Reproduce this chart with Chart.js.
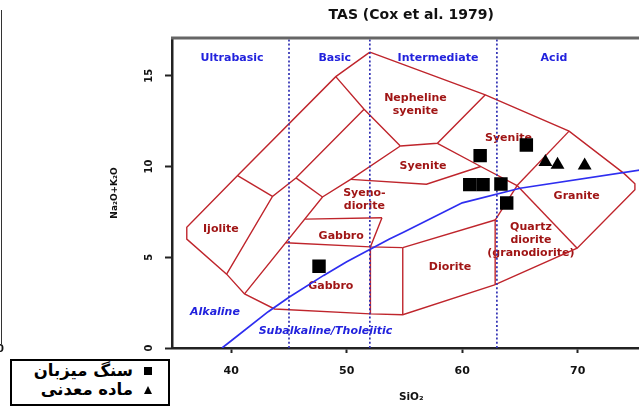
<!DOCTYPE html>
<html>
<head>
<meta charset="utf-8">
<title>TAS (Cox et al. 1979)</title>
<script src="https://cdn.jsdelivr.net/npm/chart.js@4/dist/chart.umd.min.js"></script>
<style>
  html, body { margin: 0; padding: 0; background: #fff; overflow: hidden; width: 639px; height: 407px; }
  #wrap { position: relative; width: 639px; height: 407px; overflow: hidden; }
  #tas { position: absolute; left: 0; top: 0; }
  #edge { position: absolute; left: 1px; top: 10px; width: 1px; height: 334px; background: #333; }
  #zero { position: absolute; left: -3px; top: 343px; font: bold 10px "DejaVu Sans", sans-serif; color: #111; }
  #legend { position: absolute; left: 10px; top: 359px; width: 156px; height: 43px; border: 2px solid #000; background: #fff; }
  #legend .txt { position: absolute; right: 35px; font: bold 16.5px "DejaVu Sans", sans-serif; direction: rtl; white-space: nowrap; line-height: 18px; color: #000; }
  #legend .sq { position: absolute; left: 132px; top: 6px; width: 8px; height: 8px; background: #000; }
  #legend .tri { position: absolute; left: 132px; top: 25px; width: 0; height: 0; border-left: 4.5px solid transparent; border-right: 4.5px solid transparent; border-bottom: 8px solid #000; }
</style>
</head>
<body>
<div id="wrap">
  <canvas id="tas" width="660" height="407"></canvas>
  <div id="edge"></div>
  <div id="zero">0</div>
  <div id="legend"></div>
</div>
<script>
// ---- axes ----
const xTicks = [40, 50, 60, 70];
const yTicks = [0, 5, 10, 15];
const xRange = [34.87, 76.3];
const yRange = [0, 17.08];

// ---- samples (SiO2, Na2O+K2O) ----
const seriesNames = ['سنگ میزبان', 'ماده معدنی'];
const hostSiO2 = [65.55, 61.55, 60.65, 61.8, 63.35, 63.85, 47.6];
const hostAlk  = [11.18, 10.6, 9.0, 9.0, 9.04, 7.99, 4.5];
const oreSiO2  = [67.2, 68.25, 70.6];
const oreAlk   = [10.25, 10.1, 10.05];

// ---- silica divisions ----
const divisionSiO2 = [45, 52, 63];
const divisionNames = ['Ultrabasic', 'Basic', 'Intermediate', 'Acid'];
const divisionLabelX = [40.07, 48.96, 57.9, 67.94];
const divisionLabelY = 15.97;

// ---- alkaline / subalkaline divide (Irvine & Baragar 1971) ----
const ibSiO2 = [39.2, 40, 43.2, 45, 48, 50, 53.7, 55, 60, 65, 77.4];
const ibAlk  = [0, 0.4, 2, 2.8, 4, 4.75, 6, 6.4, 8, 8.8, 10];
const seriesZoneNames = ['Alkaline', 'Subalkaline/Tholeiitic'];
const seriesZoneX = [38.59, 48.16];
const seriesZoneY = [1.96, 0.91];

// ---- field boundaries (SiO2, Na2O+K2O) ----
const outerBoundary = [[52.0,16.3],[62.0,13.95],[69.25,11.95],[74.0,9.62],[74.95,9.05],[74.95,8.72],
  [69.95,5.5],[62.8,3.48],[54.85,1.83],[52.05,1.88],[43.75,2.15],[41.15,2.98],[39.6,4.07],
  [36.15,6.0],[36.15,6.65],[40.55,9.5],[49.05,14.95],[52.0,16.3]];
const nephSyeniteLeft   = [[49.05,14.95],[51.5,13.15],[54.64,11.13]];
const nephSyeniteBase   = [[54.64,11.13],[57.85,11.28],[62.0,13.95]];
const syeniteDivide     = [[57.85,11.28],[61.6,10.0],[64.75,8.95]];
const syeniteGranite    = [[64.75,8.95],[69.25,11.95]];
const granodioriteSide  = [[64.75,8.95],[69.95,5.5]];
const granodioriteTop   = [[62.85,7.05],[64.75,8.95]];
const dioriteRight      = [[62.85,7.05],[62.85,3.48]];
const dioriteTop        = [[54.85,5.53],[62.85,7.05]];
const dioriteLeft       = [[54.85,5.53],[54.85,1.83]];
const gabbroRight       = [[53.05,7.18],[52.05,5.57],[52.05,1.88]];
const gabbroBase        = [[44.7,5.8],[52.05,5.57],[54.85,5.53]];
const gabbroTop         = [[46.4,7.1],[53.05,7.18]];
const syeniteBase       = [[50.34,9.29],[56.9,9.02],[61.6,10.0]];
const innerDiagonal     = [[54.64,11.13],[50.34,9.29],[47.9,8.32],[41.15,2.98]];
const outerDiagonal     = [[51.5,13.15],[45.6,9.37],[43.57,8.35],[39.6,4.07]];
const upperCross        = [[40.55,9.5],[43.57,8.35]];
const lowerCross        = [[45.6,9.37],[47.9,8.32]];

const fieldBoundaries = [outerBoundary, nephSyeniteLeft, nephSyeniteBase, syeniteDivide, syeniteGranite,
  granodioriteSide, granodioriteTop, dioriteRight, dioriteTop, dioriteLeft, gabbroRight, gabbroBase,
  gabbroTop, syeniteBase, innerDiagonal, outerDiagonal, upperCross, lowerCross];

// ---- field names ----
const fieldNames = ['Nepheline\nsyenite', 'Syenite', 'Syenite', 'Syeno-\ndiorite', 'Gabbro', 'Gabbro',
  'Ijolite', 'Diorite', 'Quartz\ndiorite\n(granodiorite)', 'Granite'];
const fieldX = [55.95, 56.6, 64.0, 51.53, 49.52, 48.62, 39.1, 58.94, 65.95, 69.91];
const fieldY = [13.4, 10.0, 11.55, 8.17, 6.18, 3.39, 6.53, 4.44, 5.95, 8.38];

// ---- styling ----
const RED = '#bf252c';
const RED_TEXT = '#a01515';
const BLUE = '#2222dd';
const FONT = '"DejaVu Sans", sans-serif';

const toPts = arr => arr.map(([x, y]) => ({ x, y }));

const datasets = [];
fieldBoundaries.forEach(b => datasets.push({
  data: toPts(b), showLine: true, borderColor: RED, borderWidth: 1.4,
  pointRadius: 0, fill: false, tension: 0, order: 3
}));
divisionSiO2.forEach(v => datasets.push({
  data: [{ x: v, y: yRange[0] }, { x: v, y: yRange[1] }], showLine: true,
  borderColor: '#3030b4', borderWidth: 1.7, borderDash: [2, 2.2], pointRadius: 0, order: 2
}));
datasets.push({
  data: ibSiO2.map((x, i) => ({ x, y: ibAlk[i] })), showLine: true,
  borderColor: '#2e2ef0', borderWidth: 1.7, pointRadius: 0, order: 2
});
datasets.push({
  label: seriesNames[0], data: hostSiO2.map((x, i) => ({ x, y: hostAlk[i] })),
  pointStyle: 'rect', pointRadius: 9.5, backgroundColor: '#000', borderColor: '#000', borderWidth: 0, order: 0
});
datasets.push({
  label: seriesNames[1], data: oreSiO2.map((x, i) => ({ x, y: oreAlk[i] })),
  pointStyle: 'triangle', pointRadius: 8, backgroundColor: '#000', borderColor: '#000', borderWidth: 0, order: 0
});

function centeredLines(ctx, text, cx, cy, lh) {
  const lines = text.split('\n');
  lines.forEach((t, k) => ctx.fillText(t, cx, cy + (k - (lines.length - 1) / 2) * lh));
}

const annotations = {
  id: 'annotations',
  beforeDatasetsDraw(chart) {
    const { ctx, scales: { x, y } } = chart;
    ctx.save();
    ctx.textAlign = 'center';
    ctx.textBaseline = 'middle';
    ctx.fillStyle = BLUE;
    ctx.font = 'bold 11px ' + FONT;
    divisionNames.forEach((n, i) => ctx.fillText(n, x.getPixelForValue(divisionLabelX[i]), y.getPixelForValue(divisionLabelY)));
    ctx.font = 'italic bold 11px ' + FONT;
    seriesZoneNames.forEach((n, i) => ctx.fillText(n, x.getPixelForValue(seriesZoneX[i]), y.getPixelForValue(seriesZoneY[i])));
    ctx.fillStyle = RED_TEXT;
    ctx.font = 'bold 11px ' + FONT;
    fieldNames.forEach((n, i) => centeredLines(ctx, n, x.getPixelForValue(fieldX[i]), y.getPixelForValue(fieldY[i]), 13));
    ctx.restore();
  },
  afterDraw(chart) {
    const { ctx, chartArea: a, scales: { x, y } } = chart;
    ctx.save();
    // top frame
    ctx.strokeStyle = '#666';
    ctx.lineWidth = 3;
    ctx.beginPath(); ctx.moveTo(a.left - 1, a.top); ctx.lineTo(a.right, a.top); ctx.stroke();
    ctx.fillStyle = '#111';
    ctx.textAlign = 'center';
    ctx.textBaseline = 'middle';
    // title
    ctx.font = 'bold 14px ' + FONT;
    ctx.fillText('TAS (Cox et al. 1979)', (a.left + a.right) / 2, 15);
    // x tick labels
    ctx.font = 'bold 11px ' + FONT;
    xTicks.forEach(v => ctx.fillText(String(v), x.getPixelForValue(v), 371));
    // x title
    ctx.font = 'bold 10.5px ' + FONT;
    ctx.fillText('SiO₂', (a.left + a.right) / 2, 397);
    // y tick labels, rotated
    ctx.font = 'bold 10px ' + FONT;
    yTicks.forEach(v => {
      ctx.save();
      ctx.translate(149, y.getPixelForValue(v));
      ctx.rotate(-Math.PI / 2);
      ctx.fillText(String(v), 0, 0);
      ctx.restore();
    });
    // y title
    ctx.font = 'bold 9px ' + FONT;
    ctx.save();
    ctx.translate(115, (a.top + a.bottom) / 2);
    ctx.rotate(-Math.PI / 2);
    ctx.fillText('Na₂O+K₂O', 0, 0);
    ctx.restore();
    ctx.restore();
  }
};

new Chart(document.getElementById('tas'), {
  type: 'scatter',
  data: { datasets },
  options: {
    responsive: false,
    animation: false,
    devicePixelRatio: 1,
    events: [],
    layout: { padding: { left: 0, right: 6, top: 38, bottom: 0 } },
    plugins: { legend: { display: false }, tooltip: { enabled: false }, title: { display: false } },
    scales: {
      x: {
        type: 'linear', min: xRange[0], max: xRange[1],
        afterBuildTicks: s => { s.ticks = xTicks.map(v => ({ value: v })); },
        afterFit: s => { s.height = 59; },
        ticks: { display: false },
        grid: { display: true, drawOnChartArea: false, drawTicks: true, tickLength: 5, tickWidth: 2, tickColor: '#222' },
        border: { display: true, color: '#222', width: 2.5 }
      },
      y: {
        type: 'linear', min: yRange[0], max: yRange[1],
        afterBuildTicks: s => { s.ticks = yTicks.map(v => ({ value: v })); },
        afterFit: s => { s.width = 172; },
        ticks: { display: false },
        grid: { display: true, drawOnChartArea: false, drawTicks: true, tickLength: 7, tickWidth: 2, tickColor: '#222' },
        border: { display: true, color: '#222', width: 2.5 }
      }
    }
  },
  plugins: [annotations]
});

// legend box
const legend = document.getElementById('legend');
legend.innerHTML =
  '<div class="txt" style="top:1px">' + seriesNames[0] + '</div><div class="sq"></div>' +
  '<div class="txt" style="top:20px">' + seriesNames[1] + '</div><div class="tri"></div>';
</script>
</body>
</html>
